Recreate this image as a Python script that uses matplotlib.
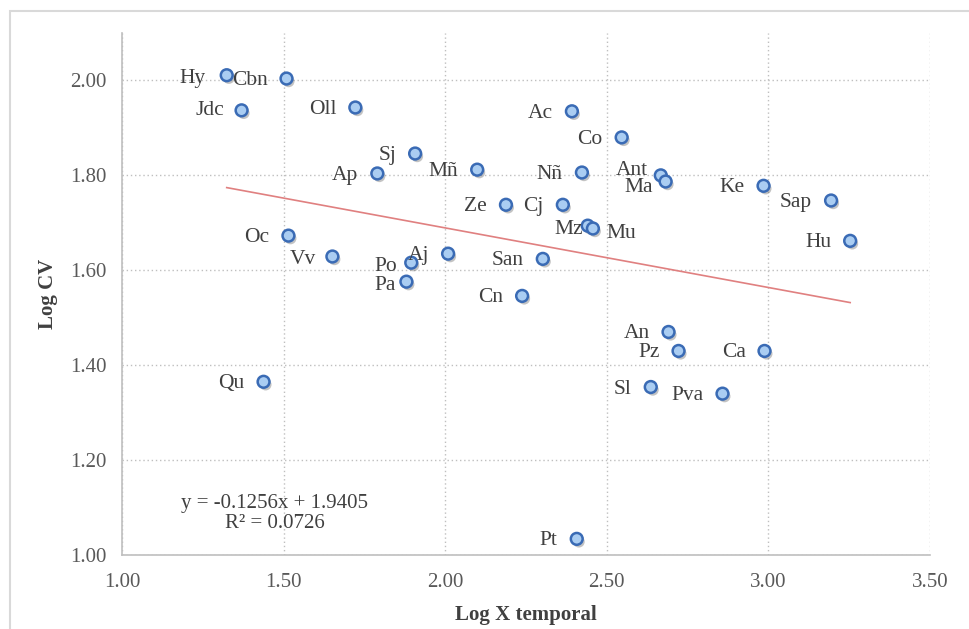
import matplotlib
matplotlib.use("Agg")
import matplotlib.pyplot as plt
import matplotlib.patheffects as pe
from matplotlib.patches import Rectangle
import numpy as np

# ---------------- data ----------------
names = ["Hy", "Cbn", "Jdc", "Oll", "Sj", "Ap", "Mñ", "Ac", "Co", "Nñ", "Ant", "Ma",
         "Ke", "Sap", "Hu", "Ze", "Cj", "Mz", "Mu", "Oc", "Vv", "Po", "Aj", "San",
         "Pa", "Cn", "An", "Pz", "Ca", "Sl", "Pva", "Qu", "Pt"]
log_x = [1.324, 1.509, 1.370, 1.722, 1.907, 1.790, 2.099, 2.392, 2.546, 2.423, 2.667, 2.682,
         2.985, 3.194, 3.253, 2.188, 2.364, 2.441, 2.457, 1.515, 1.651, 1.895, 2.009, 2.302,
         1.880, 2.238, 2.691, 2.722, 2.988, 2.636, 2.858, 1.438, 2.407]
log_cv = [2.011, 2.004, 1.937, 1.943, 1.846, 1.804, 1.812, 1.935, 1.880, 1.806, 1.800, 1.787,
          1.778, 1.747, 1.662, 1.738, 1.738, 1.694, 1.688, 1.673, 1.629, 1.616, 1.635, 1.624,
          1.576, 1.546, 1.470, 1.430, 1.430, 1.354, 1.340, 1.365, 1.034]
trend_slope = -0.1256
trend_intercept = 1.9405
r_squared = 0.0726
x_ticks = [1.00, 1.50, 2.00, 2.50, 3.00, 3.50]
y_ticks = [1.00, 1.20, 1.40, 1.60, 1.80, 2.00]

# ---------------- label placement (style, pixels) ----------------
default_off = (-19, -2, "right")
label_off = {
    "Hy": (-21, -3, "right"),
    "Ant": (-13, 5, "right"),
    "Ma": (-13, -6, "right"),
    "Mz": (-5, -4, "right"),
    "Mu": (14, -5, "left"),
    "Po": (-14, -4, "right"),
    "Pa": (-11, -4, "right"),
    "Vv": (-16, -3, "right"),
    "Jdc": (-17, 0, "right"),
}

plt.rcParams['font.family'] = ['Liberation Serif', 'DejaVu Serif']

fig = plt.figure(figsize=(9.70, 6.29), dpi=100)
ax = fig.add_axes([122/970, 1-555/629, 808/970, 522/629])

# outer border
fig.patches.append(Rectangle((10/970, -0.05), 1.2, 1-11/629+0.05, transform=fig.transFigure,
                             fill=False, edgecolor="#D9D9D9", linewidth=1.5))

ax.set_xlim(1.0, 3.5)
ax.set_ylim(1.0, 2.1)
ax.set_xticks(x_ticks)
ax.set_yticks(y_ticks)
ax.set_xticklabels([f"{v:.2f}" for v in x_ticks])
ax.set_yticklabels([f"{v:.2f}" for v in y_ticks])
ax.tick_params(axis="y", length=0, labelsize=15, colors="#595959", pad=11)
ax.tick_params(axis="x", length=0, labelsize=15, colors="#595959", pad=13)
ax.grid(True, color="#BFBFBF", linestyle=(0, (1, 2)), linewidth=1.0)
ax.set_axisbelow(True)
for s in ["top", "right"]:
    ax.spines[s].set_visible(False)
for s in ["left", "bottom"]:
    ax.spines[s].set_color("#BFBFBF")
    ax.spines[s].set_linewidth(1.2)

# trend line
xs = np.array([min(log_x), max(log_x)])
ax.plot(xs, trend_slope * xs + trend_intercept, color="#E08080", linewidth=1.2, zorder=2)

# points
ax.plot(log_x, log_cv, linestyle="none", marker="o", markersize=8.5,
        markerfacecolor="#AACDF2", markeredgecolor="#3A6BB5", markeredgewidth=1.8, zorder=3,
        path_effects=[pe.SimplePatchShadow(offset=(1.5, -2), shadow_rgbFace="#555555", alpha=0.35),
                      pe.Normal()])

for n, x, y in zip(names, log_x, log_cv):
    dx, dy, ha = label_off.get(n, default_off)
    ax.annotate(n, (x, y), xytext=(dx, dy), textcoords="offset pixels",
                ha=ha, va="center", fontsize=15.5, color="#404040", zorder=4)

eq = f"y = {trend_slope:.4f}x + {trend_intercept:.4f}\nR² = {r_squared:.4f}"
ax.text(0.189, 0.080, eq, transform=ax.transAxes, ha="center", va="center",
        fontsize=15, color="#404040", linespacing=1.05)

ax.set_xlabel("Log X temporal", fontsize=15, fontweight="bold", color="#404040", labelpad=9)
ax.set_ylabel("Log CV", fontsize=15, fontweight="bold", color="#404040", labelpad=9)

fig.savefig("out.png", dpi=100)
